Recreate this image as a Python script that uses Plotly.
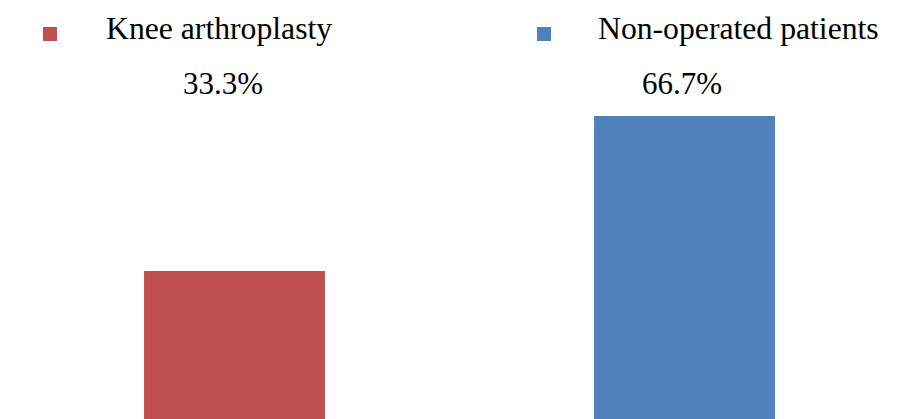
import plotly.graph_objects as go

# Share of patients by group (%)
groups = ["Knee arthroplasty", "Non-operated patients"]
shares = [33.3, 66.7]
colors = ["#C0504D", "#4F81BD"]

FONT = "Liberation Serif, Times New Roman, serif"
W, H = 897, 419

fig = go.Figure()
for g, v, c in zip(groups, shares, colors):
    fig.add_trace(go.Bar(
        x=[g], y=[v], name=g,
        marker=dict(color=c, line=dict(width=0)),
        width=0.402,
        hoverinfo="skip",
        showlegend=False,
    ))

# Percentage labels above each bar, sharing one row
label_shift = [-12, -3]
for g, v, dx in zip(groups, shares, label_shift):
    fig.add_annotation(
        x=g, y=1 - 83 / H, yref="paper", xref="x",
        text=f"{v}%", showarrow=False, xshift=dx,
        font=dict(family=FONT, size=31, color="#000000"),
        yanchor="middle",
    )

# Legend row: colour key square followed by group name
key_left = [43, 537]
text_left = [104, 596]
for g, c, kx, tx in zip(groups, colors, key_left, text_left):
    fig.add_shape(
        type="rect", xref="paper", yref="paper",
        x0=kx / W, x1=(kx + 14) / W, y0=1 - 41 / H, y1=1 - 27 / H,
        fillcolor=c, line=dict(width=0),
    )
    fig.add_annotation(
        x=tx / W, y=1 - 28 / H, xref="paper", yref="paper",
        text=g, showarrow=False, xanchor="left", yanchor="middle",
        font=dict(family=FONT, size=31.7, color="#000000"),
    )

fig.update_layout(
    width=W, height=H,
    margin=dict(l=0, r=0, t=0, b=0),
    paper_bgcolor="white", plot_bgcolor="white",
    font=dict(family=FONT),
    barmode="overlay",
    showlegend=False,
    xaxis=dict(type="category", range=[-0.5211, 1.4722], visible=False),
    yaxis=dict(range=[1.4, 91.7], visible=False),
)

fig.write_html("out.html")
